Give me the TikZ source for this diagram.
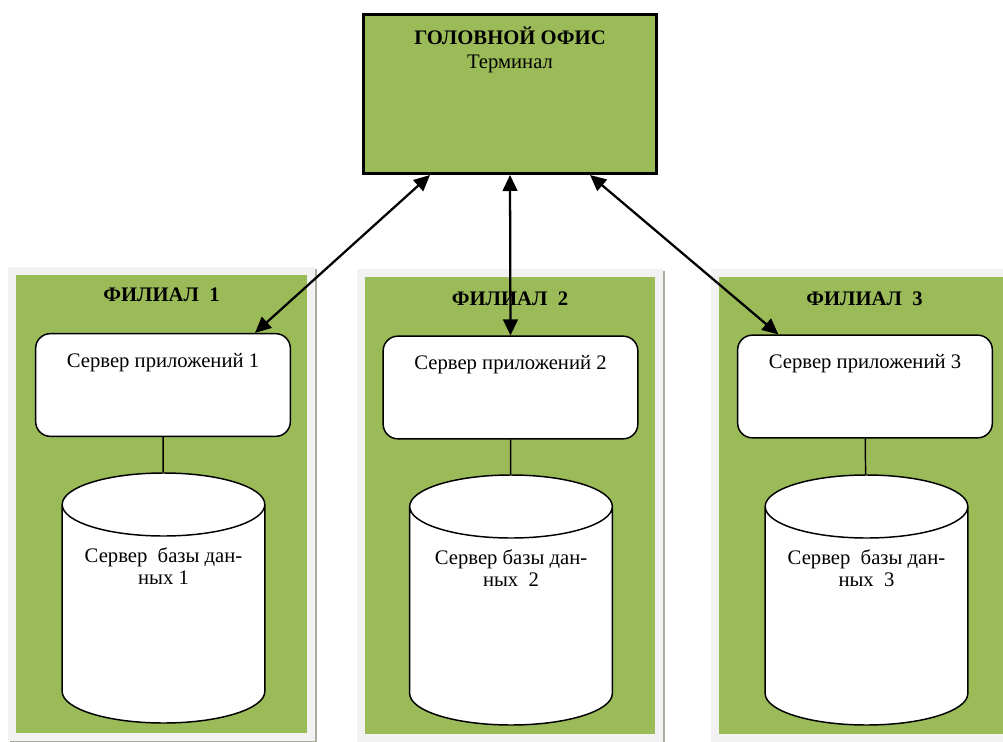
\documentclass[tikz,border=0pt]{standalone}
\usepackage{fontspec}
\setmainfont{Liberation Serif}
\usetikzlibrary{arrows.meta,positioning,shapes.geometric}

\definecolor{leafgreen}{HTML}{9BBB59}
\definecolor{panelgray}{HTML}{F2F2F2}
\definecolor{shadowgray}{HTML}{A8AC9C}

\begin{document}
\begin{tikzpicture}[x=0.75pt, y=-0.75pt,
  font=\fontsize{15.5}{17}\selectfont,
  every label/.style={inner sep=0pt, align=center, anchor=north},
  branch/.style={fill=leafgreen, draw=panelgray, line width=6pt,
                 minimum width=224pt, minimum height=349pt,
                 preaction={draw=shadowgray, line width=6pt,
                            transform canvas={xshift=1.5pt, yshift=-1.5pt}}},
  office/.style={fill=leafgreen, draw, line width=2.25pt,
                 minimum width=219.75pt, minimum height=119.25pt},
  appbox/.style={draw, fill=white, line width=1.1pt, rounded corners=11pt,
                 minimum width=191pt, minimum height=77pt},
  dbbox/.style={draw, fill=white, line width=1.1pt, cylinder,
                shape border rotate=90, aspect=0.32, text width=141pt,
                minimum width=152pt, minimum height=187.5pt,
                anchor=shape center},
  link/.style={line width=1.7pt},
  >={Triangle[length=12pt, width=11pt]}]
\useasboundingbox (0,0) rectangle (1003,742);
\node[branch, label={[yshift=-15pt]north:\textbf{ФИЛИАЛ\ \ 1}}] (br1)
  at (161.5,504) {};
\node[branch, label={[yshift=-17pt]north:\textbf{ФИЛИАЛ\ \ 2}}] (br2)
  at (510,505.5) {};
\node[branch, label={[yshift=-17pt]north:\textbf{ФИЛИАЛ\ \ 3}}] (br3)
  at (864.5,505.5) {};
\node[office, label={[yshift=-10.5pt, align=center]north:{\textbf{ГОЛОВНОЙ ОФИС}\\[1pt]Терминал}}]
  (hq) at (510,94) {};
\node[appbox, label={[yshift=-15pt]north:Сервер приложений 1}] (app1)
  at (163,385) {};
\node[appbox, label={[yshift=-15pt]north:Сервер приложений 2}] (app2)
  at (510.5,387.5) {};
\node[appbox, label={[yshift=-15pt]north:Сервер приложений 3}] (app3)
  at (865,386.5) {};
\node[dbbox, label={[yshift=-56pt]north:{Сервер\ \ базы дан-\\ных 1}}] (db1)
  at (163.5,598) {};
\node[dbbox, label={[yshift=-56pt]north:{Сервер базы дан-\\ных\ \ 2}}] (db2)
  at (511,600) {};
\node[dbbox, label={[yshift=-56pt]north:{Сервер\ \ базы дан-\\ных\ \ 3}}] (db3)
  at (866.5,600) {};
\draw[line width=1.1pt] (app1) -- (db1);
\draw[line width=1.1pt] (app2) -- (db2);
\draw[line width=1.1pt] (app3) -- (db3);
\draw[link,<->] ([xshift=-60pt]hq.south) -- ([xshift=69pt]app1.north);
\draw[link,<->] (hq.south) -- (app2.north);
\draw[link,<->] ([xshift=60pt]hq.south) -- ([xshift=-65pt]app3.north);
\end{tikzpicture}
\end{document}
